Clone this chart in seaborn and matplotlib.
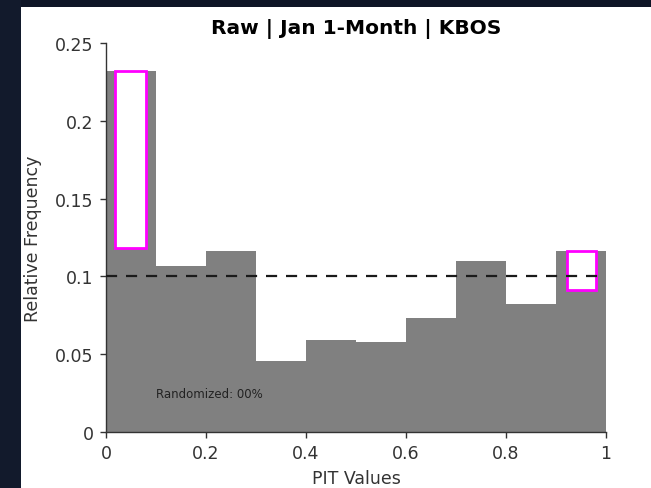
import matplotlib
matplotlib.use("Agg")
import matplotlib.pyplot as plt
import seaborn as sns
import numpy as np
from matplotlib.patches import Rectangle

# Data
bin_edges = [0.0, 0.1, 0.2, 0.3, 0.4, 0.5, 0.6, 0.7, 0.8, 0.9, 1.0]
rel_freq = [0.2322, 0.1066, 0.1162, 0.0456, 0.0589, 0.0580, 0.0734, 0.1098, 0.0822, 0.1162]
# Magenta boxes: (x0, x1, y0, y1)
box1 = [0.018, 0.080, 0.118, 0.2322]
box2 = [0.921, 0.980, 0.091, 0.1162]
ref_level = 0.1
x_ticks = [0, 0.2, 0.4, 0.6, 0.8, 1.0]
x_ticklabels = ["0", "0.2", "0.4", "0.6", "0.8", "1"]
y_ticks = [0, 0.05, 0.1, 0.15, 0.2, 0.25]
y_ticklabels = ["0", "0.05", "0.1", "0.15", "0.2", "0.25"]
title = "Raw | Jan 1-Month | KBOS"
note = "Randomized: 00%"

sns.set_style("ticks")
plt.rcParams['font.family'] = ['DejaVu Sans']

fig = plt.figure(figsize=(6.51, 4.89), dpi=100, facecolor="white")
# dark background strips (top and left)
fig.patches.append(Rectangle((0, 1 - 8 / 489), 1, 8 / 489, transform=fig.transFigure,
                             facecolor="#0e1526", edgecolor="none", zorder=-10))
fig.patches.append(Rectangle((0, 0), 21 / 651, 1, transform=fig.transFigure,
                             facecolor="#121a2c", edgecolor="none", zorder=-10))

ax = fig.add_axes([106 / 651, 1 - 433 / 489, 500 / 651, (433 - 44) / 489])

centers = [(bin_edges[i] + bin_edges[i + 1]) / 2 for i in range(len(rel_freq))]
sns.histplot(x=centers, weights=rel_freq, bins=bin_edges, stat="count", ax=ax,
             color="#808080", alpha=1.0, edgecolor="#808080", linewidth=0.0)

for b in (box1, box2):
    ax.add_patch(Rectangle((b[0], b[2]), b[1] - b[0], b[3] - b[2], facecolor="white",
                           edgecolor="#ff00ff", linewidth=2.0, zorder=3))

ax.plot([0, 1], [ref_level, ref_level], color="#1a1a1a", linestyle=(0, (5, 4)),
        linewidth=1.6, zorder=4)

ax.text(0.1, 0.0246, note, fontsize=8.5, color="#222222", va="center", ha="left")

ax.set_xlim(0, 1)
ax.set_ylim(0, 0.25)
ax.set_xticks(x_ticks)
ax.set_xticklabels(x_ticklabels)
ax.set_yticks(y_ticks)
ax.set_yticklabels(y_ticklabels)
ax.tick_params(axis="both", labelsize=12.5, direction="out", length=4, width=1,
               colors="#333333", labelcolor="#333333", pad=5)
ax.set_xlabel("PIT Values", fontsize=12.5, color="#333333", labelpad=5)
ax.set_ylabel("Relative Frequency", fontsize=12.5, color="#333333", labelpad=9)
ax.set_title(title, fontsize=14.5, fontweight="bold", color="black", pad=7)
ax.set_facecolor("white")
for s in ("top", "right"):
    ax.spines[s].set_visible(False)
for s in ("left", "bottom"):
    ax.spines[s].set_color("#333333")
    ax.spines[s].set_linewidth(1.0)

fig.savefig("out.png", dpi=100, facecolor=fig.get_facecolor())
